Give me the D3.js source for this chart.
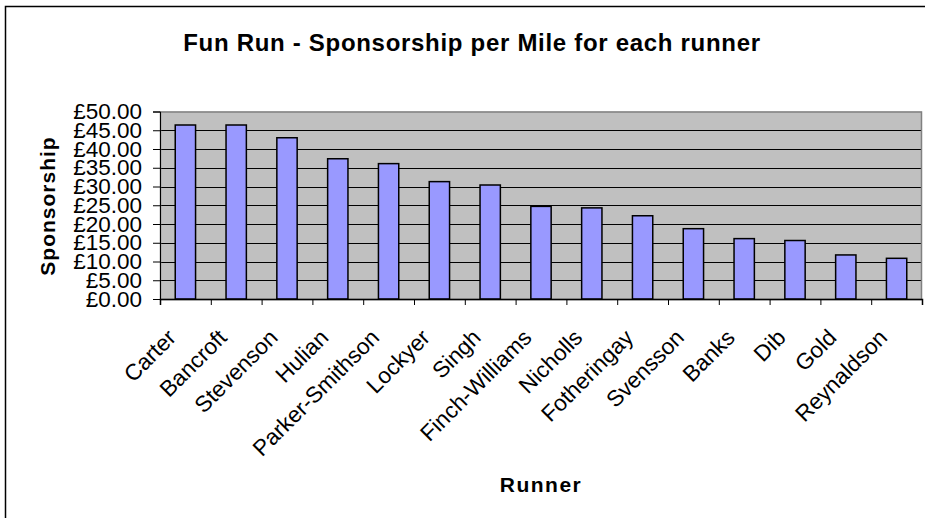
<!DOCTYPE html>
<html>
<head>
<meta charset="utf-8">
<script src="https://cdn.jsdelivr.net/npm/d3@7"></script>
<style>
  html, body { margin: 0; padding: 0; background: #fff; }
  svg { display: block; font-family: Arial, "Liberation Sans", sans-serif; }
</style>
</head>
<body>
<svg id="chart" width="925" height="518"></svg>
<script>
const runners = ["Carter", "Bancroft", "Stevenson", "Hulian", "Parker-Smithson", "Lockyer", "Singh",
  "Finch-Williams", "Nicholls", "Fotheringay", "Svensson", "Banks", "Dib", "Gold", "Reynaldson"];
const sponsorship = [46.4, 46.4, 43.0, 37.4, 36.1, 31.3, 30.4, 24.7, 24.3, 22.2, 18.75, 16.1, 15.6, 11.75, 10.85];
const yTickValues = [0, 5, 10, 15, 20, 25, 30, 35, 40, 45, 50];
const titleText = "Fun Run - Sponsorship per Mile for each runner";
const xTitle = "Runner";
const yTitle = "Sponsorship";

const svg = d3.select("#chart");
const plot = { left: 160, right: 922, top: 111.5, bottom: 299 };

// outer chart border
svg.append("rect")
  .attr("x", 5.5).attr("y", 6.5).attr("width", 930).attr("height", 530)
  .attr("fill", "#fff").attr("stroke", "#000").attr("stroke-width", 1.5);

const x = d3.scaleBand().domain(runners).range([plot.left, plot.right])
  .paddingInner(0.6).paddingOuter(0.3);
const xEdge = d3.scaleLinear().domain([0, runners.length]).range([plot.left, plot.right]);
const y = d3.scaleLinear().domain([0, 50]).range([plot.bottom, plot.top]);
const fmt = d => "£" + d3.format(".2f")(d);

// plot background
svg.append("rect")
  .attr("x", plot.left).attr("y", plot.top)
  .attr("width", plot.right - plot.left).attr("height", plot.bottom - plot.top)
  .attr("fill", "#C0C0C0");

// gridlines
svg.append("g").selectAll("line").data(yTickValues.filter(d => d > 0 && d < 50)).join("line")
  .attr("x1", plot.left).attr("x2", plot.right)
  .attr("y1", d => Math.round(y(d)) + 0.5).attr("y2", d => Math.round(y(d)) + 0.5)
  .attr("stroke", "#000").attr("stroke-width", 1);

// plot border
svg.append("rect")
  .attr("x", plot.left + 0.5).attr("y", plot.top + 0.5)
  .attr("width", plot.right - plot.left - 1).attr("height", plot.bottom - plot.top)
  .attr("fill", "none").attr("stroke", "#808080").attr("stroke-width", 1.5);

// bars
svg.append("g").selectAll("rect").data(runners).join("rect")
  .attr("x", d => x(d)).attr("width", x.bandwidth())
  .attr("y", (d, i) => y(sponsorship[i]))
  .attr("height", (d, i) => y(0) - y(sponsorship[i]))
  .attr("fill", "#9999FF").attr("stroke", "#000").attr("stroke-width", 1.5);

// y axis
const yAxis = svg.append("g").attr("transform", `translate(${plot.left},0)`)
  .call(d3.axisLeft(y).tickValues(yTickValues).tickFormat(fmt).tickSize(7).tickPadding(11));
yAxis.select(".domain").attr("stroke", "#000").attr("stroke-width", 1);
yAxis.selectAll(".tick line").attr("stroke", "#000");
yAxis.selectAll(".tick text").attr("font-size", "22.5px").attr("fill", "#000")
  .attr("font-family", "Arial, 'Liberation Sans', sans-serif");

// x axis (ticks at category boundaries)
const xAxis = svg.append("g").attr("transform", `translate(0,${plot.bottom})`)
  .call(d3.axisBottom(xEdge).tickValues(d3.range(runners.length + 1)).tickFormat("").tickSize(6));
xAxis.select(".domain").attr("stroke", "#000").attr("stroke-width", 1.5);
xAxis.selectAll(".tick line").attr("stroke", "#000");

// x labels
svg.append("g").selectAll("text").data(runners).join("text")
  .attr("transform", d => `translate(${x(d) + x.bandwidth() / 2 - 8},${plot.bottom + 40}) rotate(-45)`)
  .attr("text-anchor", "end")
  .attr("font-size", "22.5px").attr("fill", "#000")
  .text(d => d);

// title
svg.append("text")
  .attr("x", 472).attr("y", 51).attr("text-anchor", "middle")
  .attr("font-size", "24px").attr("font-weight", "bold").attr("letter-spacing", "0.7px")
  .text(titleText);

// axis titles
svg.append("text")
  .attr("x", 541).attr("y", 492).attr("text-anchor", "middle")
  .attr("font-size", "21px").attr("font-weight", "bold").attr("letter-spacing", "1.5px")
  .text(xTitle);

svg.append("text")
  .attr("transform", "translate(55,206) rotate(-90)").attr("text-anchor", "middle")
  .attr("font-size", "21px").attr("font-weight", "bold").attr("letter-spacing", "1px")
  .text(yTitle);
</script>
</body>
</html>
